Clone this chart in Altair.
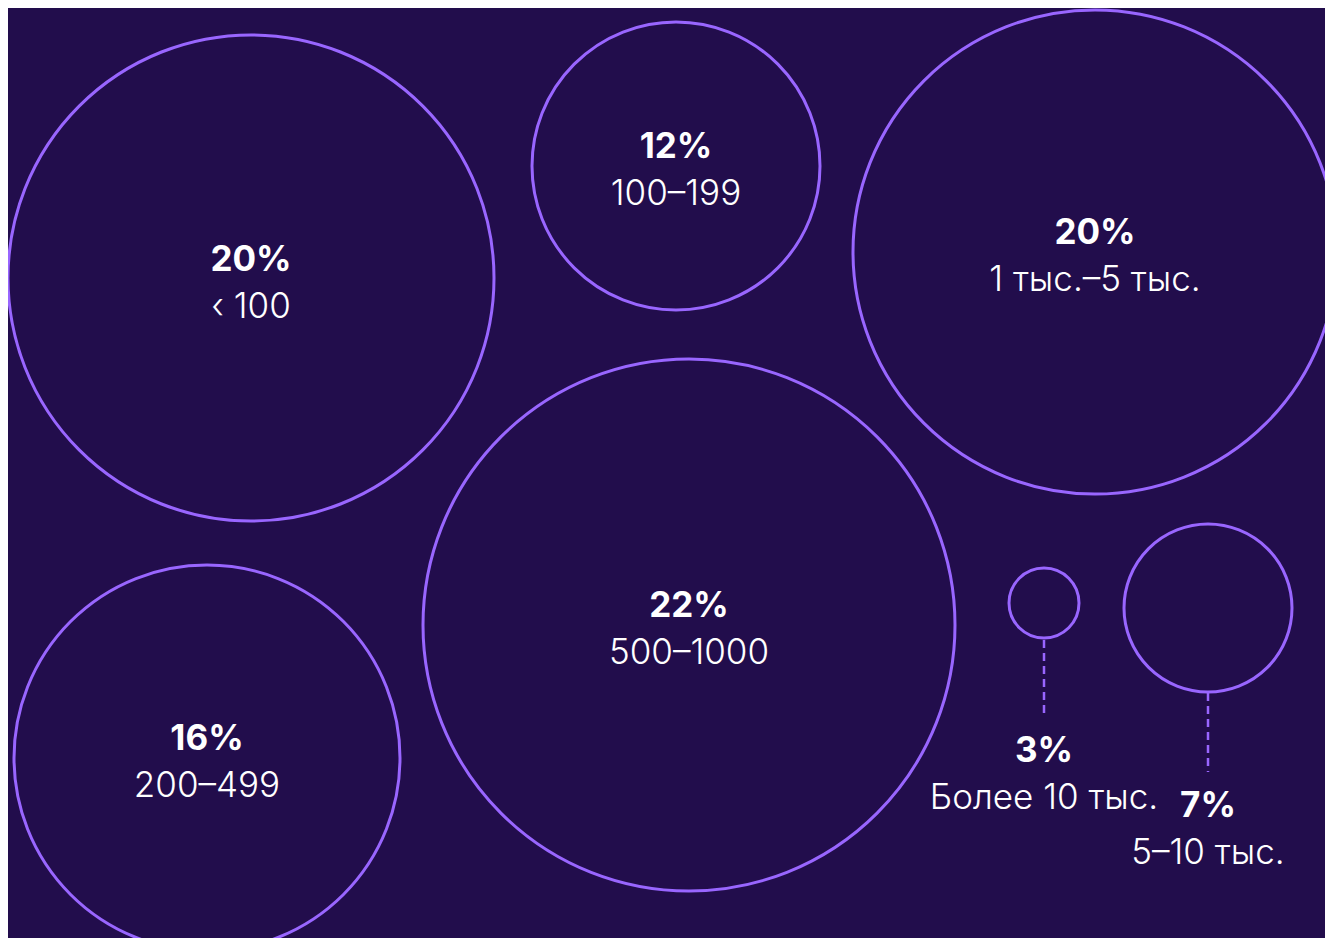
import altair as alt
import pandas as pd

# Data
labels = ["‹ 100", "100–199", "200–499", "500–1000", "1 тыс.–5 тыс.", "5–10 тыс.", "Более 10 тыс."]
pct_values = [20, 12, 16, 22, 20, 7, 3]
pct_text = [f"{v}%" for v in pct_values]
center_x = [251, 676, 207, 689, 1095, 1208, 1044]
center_y = [278, 166, 758, 625, 252, 608, 603]
radius = [243, 144, 193, 266, 242, 84, 35]
text_y = [271, 158, 750, 617, 244, 817, 762]

leader_x = [1044, 1208]
leader_y1 = [640, 693]
leader_y2 = [718, 772]

BG = "#220d4c"
STROKE = "#9966ff"

df = pd.DataFrame({
    "label": labels,
    "pct": pct_text,
    "cx": center_x,
    "cy": center_y,
    "size": [(2 * r) ** 2 for r in radius],
    "ty": text_y,
})
lead = pd.DataFrame({"x": leader_x, "y1": leader_y1, "y2": leader_y2})

xs = alt.Scale(domain=[8, 1325], range=[0, 1317])
ys = alt.Scale(domain=[8, 938], range=[0, 930])

X = alt.X("cx:Q", scale=xs, axis=None)
Y = alt.Y("cy:Q", scale=ys, axis=None)

circles = alt.Chart(df).mark_point(
    shape="circle", filled=False, stroke=STROKE, strokeWidth=3, opacity=1, clip=True
).encode(x=X, y=Y, size=alt.Size("size:Q", scale=None, legend=None))

leaders = alt.Chart(lead).mark_rule(
    stroke=STROKE, strokeWidth=2.5, strokeDash=[8, 5]
).encode(
    x=alt.X("x:Q", scale=xs, axis=None),
    y=alt.Y("y1:Q", scale=ys, axis=None),
    y2="y2:Q",
)

pct = alt.Chart(df).mark_text(
    font="Inter", fontSize=35, fontWeight=700, color="white",
    align="center", baseline="alphabetic"
).encode(x=X, y=alt.Y("ty:Q", scale=ys, axis=None), text="pct:N")

lab = alt.Chart(df).mark_text(
    font="Inter", fontSize=35, fontWeight=300, color="white",
    align="center", baseline="alphabetic", dy=47
).encode(x=X, y=alt.Y("ty:Q", scale=ys, axis=None), text="label:N")

chart = alt.layer(circles, leaders, pct, lab).properties(
    width=1317, height=930, padding=0, autosize=alt.AutoSizeParams(type="none"),
    background=BG
).configure_view(stroke=None)

chart.save("out.html", embed_options={"renderer": "svg", "actions": False})
